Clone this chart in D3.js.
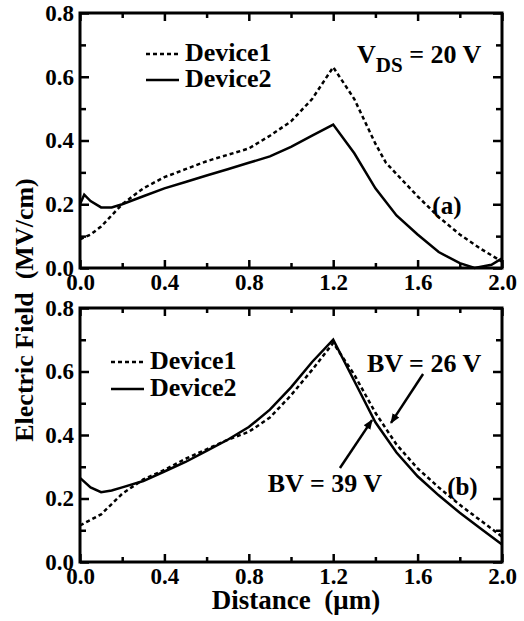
<!DOCTYPE html>
<html>
<head>
<meta charset="utf-8">
<script src="https://cdn.jsdelivr.net/npm/d3@7"></script>
<style>
  body { margin: 0; background: #fff; }
</style>
</head>
<body>
<div id="chart"></div>
<script>
// ---- data ----
var xMajor = [0, 0.4, 0.8, 1.2, 1.6, 2.0];
var xMinor = [0.2, 0.6, 1.0, 1.4, 1.8];
var yMajor = [0, 0.2, 0.4, 0.6, 0.8];
var yMinor = [0.1, 0.3, 0.5, 0.7];

// panel (a), VDS = 20 V
var distA1 = [0, 0.05, 0.1, 0.15, 0.2, 0.3, 0.4, 0.5, 0.6, 0.7, 0.8, 0.9, 1.0, 1.1, 1.2, 1.3, 1.4, 1.45, 1.5, 1.6, 1.7, 1.8, 1.9, 2.0];
var fieldA1 = [0.09, 0.105, 0.13, 0.165, 0.20, 0.25, 0.285, 0.31, 0.335, 0.355, 0.375, 0.415, 0.46, 0.53, 0.63, 0.53, 0.39, 0.33, 0.295, 0.225, 0.16, 0.105, 0.06, 0.02];
var distA2 = [0, 0.02, 0.05, 0.1, 0.15, 0.2, 0.3, 0.4, 0.5, 0.6, 0.7, 0.8, 0.9, 1.0, 1.1, 1.2, 1.3, 1.4, 1.5, 1.6, 1.7, 1.8, 1.87, 1.95, 2.0];
var fieldA2 = [0.20, 0.23, 0.21, 0.19, 0.19, 0.20, 0.225, 0.25, 0.27, 0.29, 0.31, 0.33, 0.35, 0.38, 0.415, 0.45, 0.36, 0.25, 0.165, 0.105, 0.05, 0.015, 0.0, 0.01, 0.03];

// panel (b), breakdown
var distB1 = [0, 0.1, 0.2, 0.3, 0.4, 0.5, 0.6, 0.7, 0.8, 0.9, 1.0, 1.1, 1.2, 1.3, 1.4, 1.5, 1.6, 1.7, 1.8, 1.9, 2.0];
var fieldB1 = [0.115, 0.15, 0.215, 0.26, 0.29, 0.325, 0.355, 0.385, 0.41, 0.455, 0.525, 0.605, 0.69, 0.59, 0.47, 0.37, 0.295, 0.235, 0.18, 0.13, 0.08];
var distB2 = [0, 0.05, 0.1, 0.15, 0.2, 0.3, 0.4, 0.5, 0.6, 0.7, 0.8, 0.9, 1.0, 1.1, 1.2, 1.3, 1.4, 1.5, 1.6, 1.7, 1.8, 1.9, 2.0];
var fieldB2 = [0.265, 0.235, 0.22, 0.225, 0.235, 0.255, 0.285, 0.315, 0.35, 0.385, 0.425, 0.48, 0.55, 0.63, 0.70, 0.57, 0.44, 0.345, 0.27, 0.21, 0.155, 0.105, 0.055];

var seriesNames = ["Device1", "Device2"];

var width = 524, height = 621;
var left = 80, right = 502;
var serif = "Liberation Serif";

var svg = d3.select("#chart").append("svg")
    .attr("width", width)
    .attr("height", height);

var x = d3.scaleLinear().domain([0, 2.0]).range([left, right]);

function zip(xs, ys) {
    return xs.map((d, i) => [d, ys[i]]);
}

function txt(sel, size, weight) {
    return sel.style("font-family", serif)
        .style("font-size", size + "px")
        .style("font-weight", weight);
}

function panel(top, bottom, d1, d2, tag) {
    var y = d3.scaleLinear().domain([0, 0.8]).range([bottom, top]);
    var g = svg.append("g");

    // minor ticks, all four sides
    g.append("g").attr("transform", "translate(0," + bottom + ")")
        .call(d3.axisBottom(x).tickValues(xMinor).tickSize(-5).tickFormat(""));
    g.append("g").attr("transform", "translate(0," + top + ")")
        .call(d3.axisTop(x).tickValues(xMinor).tickSize(-5).tickFormat(""));
    g.append("g").attr("transform", "translate(" + left + ",0)")
        .call(d3.axisLeft(y).tickValues(yMinor).tickSize(-6).tickFormat(""));
    g.append("g").attr("transform", "translate(" + right + ",0)")
        .call(d3.axisRight(y).tickValues(yMinor).tickSize(-6).tickFormat(""));

    // major ticks
    g.append("g").attr("transform", "translate(0," + bottom + ")")
        .call(d3.axisBottom(x).tickValues(xMajor).tickSize(-8).tickPadding(6).tickFormat(d3.format(".1f")));
    g.append("g").attr("transform", "translate(0," + top + ")")
        .call(d3.axisTop(x).tickValues(xMajor).tickSize(-8).tickFormat(""));
    g.append("g").attr("transform", "translate(" + left + ",0)")
        .call(d3.axisLeft(y).tickValues(yMajor).tickSize(-9).tickPadding(6).tickFormat(d3.format(".1f")));
    g.append("g").attr("transform", "translate(" + right + ",0)")
        .call(d3.axisRight(y).tickValues(yMajor).tickSize(-9).tickFormat(""));

    g.selectAll(".domain").remove();
    g.selectAll("g").attr("font-family", null).attr("font-size", null);
    g.selectAll(".tick line").attr("stroke", "#000").attr("stroke-width", 2.5);
    txt(g.selectAll(".tick text"), 23, "bold");

    var line = d3.line().x(d => x(d[0])).y(d => y(d[1]));

    g.append("path")
        .datum(d1)
        .attr("d", line)
        .attr("fill", "none")
        .attr("stroke", "#000")
        .attr("stroke-width", 2.5)
        .attr("stroke-dasharray", "4,3");

    g.append("path")
        .datum(d2)
        .attr("d", line)
        .attr("fill", "none")
        .attr("stroke", "#000")
        .attr("stroke-width", 2.5);

    g.append("rect")
        .attr("x", left)
        .attr("y", top)
        .attr("width", right - left)
        .attr("height", bottom - top)
        .attr("fill", "none")
        .attr("stroke", "#000")
        .attr("stroke-width", 3);

    txt(g.append("text"), 25, "bold")
        .attr("x", x(tag.x))
        .attr("y", y(tag.y))
        .text(tag.label);

    return {g: g, y: y};
}

function legend(g, lx, ly, gap) {
    seriesNames.forEach((name, i) => {
        var yy = ly + i * gap;
        g.append("line")
            .attr("x1", lx).attr("x2", lx + 33)
            .attr("y1", yy).attr("y2", yy)
            .attr("stroke", "#000")
            .attr("stroke-width", 2.5)
            .attr("stroke-dasharray", i == 0 ? "4,3" : null);
        txt(g.append("text"), 26, 600)
            .attr("x", lx + 39)
            .attr("y", yy + 7)
            .text(name);
    });
}

// ---- panel (a) ----
var pa = panel(13, 268, zip(distA1, fieldA1), zip(distA2, fieldA2), {x: 1.67, y: 0.17, label: "(a)"});
legend(pa.g, 146, 54, 26);

var vds = txt(pa.g.append("text"), 26, "bold")
    .attr("x", 357)
    .attr("y", 63);
vds.append("tspan").text("V");
vds.append("tspan").attr("dy", 9).style("font-size", "21px").text("DS");
vds.append("tspan").attr("dy", -9).text(" = 20 V");

// ---- panel (b) ----
var pb = panel(308, 562, zip(distB1, fieldB1), zip(distB2, fieldB2), {x: 1.74, y: 0.21, label: "(b)"});
legend(pb.g, 111, 362, 27);

var notes = [
    {text: "BV = 26 V", tx: 1.36, ty: 0.60, from: [1.626, 0.592], to: [1.474, 0.438]},
    {text: "BV = 39 V", tx: 0.89, ty: 0.22, from: [1.232, 0.296], to: [1.384, 0.447]}
];

svg.append("defs").append("marker")
    .attr("id", "head")
    .attr("viewBox", "0 0 10 10")
    .attr("refX", 9).attr("refY", 5)
    .attr("markerWidth", 4).attr("markerHeight", 4)
    .attr("orient", "auto")
    .append("path")
    .attr("d", "M0,1 L10,5 L0,9 z")
    .attr("fill", "#000");

notes.forEach(n => {
    txt(pb.g.append("text"), 26, "bold")
        .attr("x", x(n.tx))
        .attr("y", pb.y(n.ty))
        .text(n.text);
    pb.g.append("line")
        .attr("x1", x(n.from[0])).attr("y1", pb.y(n.from[1]))
        .attr("x2", x(n.to[0])).attr("y2", pb.y(n.to[1]))
        .attr("stroke", "#000")
        .attr("stroke-width", 2.5)
        .attr("marker-end", "url(#head)");
});

// ---- axis titles ----
txt(svg.append("text"), 27, 600)
    .attr("x", (left + right) / 2 + 5)
    .attr("y", 609)
    .attr("text-anchor", "middle")
    .text("Distance\u00a0\u00a0(\u03bcm)");

txt(svg.append("text"), 26, 600)
    .attr("transform", "translate(33,310) rotate(-90)")
    .attr("text-anchor", "middle")
    .text("Electric Field\u00a0\u00a0(MV/cm)");
</script>
</body>
</html>
